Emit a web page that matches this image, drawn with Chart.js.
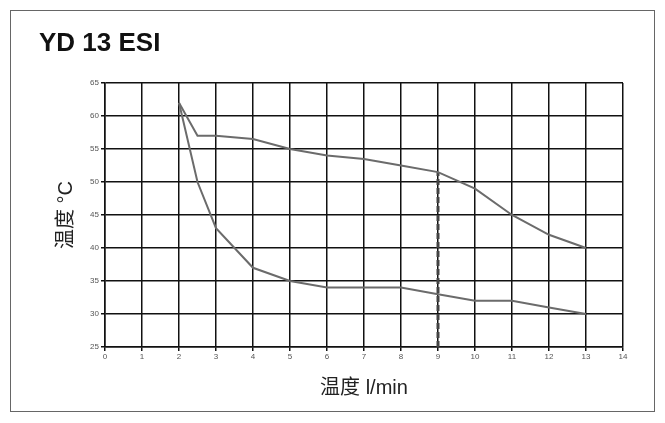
<!DOCTYPE html>
<html>
<head>
<meta charset="utf-8">
<script src="https://cdn.jsdelivr.net/npm/chart.js@4"></script>
<style>
  html, body { margin: 0; padding: 0; background: #fff; }
  #wrap { width: 665px; height: 423px; position: relative; }
</style>
</head>
<body>
<div id="wrap"><canvas id="myChart" width="665" height="423"></canvas></div>
<script>
// flow (l/min) on x, temperature on y
var flow = [2, 2.5, 3, 4, 5, 6, 7, 8, 9, 10, 11, 12, 13];
var upperTemp = [62, 57, 57, 56.5, 55, 54, 53.5, 52.5, 51.5, 49, 45, 42, 40];
var lowerTemp = [62, 50, 43, 37, 35, 34, 34, 34, 33, 32, 32, 31, 30];
var markerX = [9, 9];
var markerY = [25, 51.5];
var xTicks = [0, 1, 2, 3, 4, 5, 6, 7, 8, 9, 10, 11, 12, 13, 14];
var yTicks = [25, 30, 35, 40, 45, 50, 55, 60, 65];

function pts(xs, ys) {
    return xs.map(function (x, i) { return { x: x, y: ys[i] }; });
}

// outer frame + title
var framePlugin = {
    id: 'frame',
    beforeDraw: function (chart) {
        var c = chart.ctx;
        c.save();
        c.fillStyle = '#fff';
        c.fillRect(0, 0, chart.width, chart.height);
        c.strokeStyle = '#666';
        c.lineWidth = 1;
        c.strokeRect(10.5, 10.5, 644, 401);
        c.fillStyle = '#111';
        c.font = 'bold 26px "Liberation Sans", Arial, sans-serif';
        c.textBaseline = 'middle';
        c.fillText('YD 13 ESI', 39, 44);
        c.restore();
    }
};

new Chart("myChart", {
    type: "scatter",
    data: {
        datasets: [{
            data: pts(flow, upperTemp),
            showLine: true,
            borderColor: "#6b6b6b",
            borderWidth: 2,
            pointRadius: 0,
            tension: 0
        }, {
            data: pts(flow, lowerTemp),
            showLine: true,
            borderColor: "#6b6b6b",
            borderWidth: 2,
            pointRadius: 0,
            tension: 0
        }, {
            data: pts(markerX, markerY),
            showLine: true,
            borderColor: "#444",
            borderWidth: 3,
            borderDash: [6, 3],
            pointRadius: 0
        }]
    },
    options: {
        responsive: false,
        animation: false,
        layout: { padding: { left: 10, right: 42, top: 83, bottom: 10 } },
        plugins: {
            legend: { display: false },
            tooltip: { enabled: false }
        },
        scales: {
            x: {
                type: 'linear',
                min: 0, max: 14,
                afterBuildTicks: function (s) { s.ticks = xTicks.map(function (v) { return { value: v }; }); },
                afterFit: function (s) { s.height = 66; },
                grid: { color: '#111', lineWidth: 1.5, tickLength: 4, drawTicks: true },
                border: { color: '#111', width: 1.5 },
                ticks: { color: '#555', font: { size: 8, family: 'Liberation Sans' }, padding: 1, maxRotation: 0 },
                title: {
                    display: true,
                    text: '温度 l/min',
                    color: '#222',
                    font: { size: 20, family: '"Liberation Sans", "Noto Sans CJK SC", sans-serif' },
                    padding: { top: 6, bottom: 13 }
                }
            },
            y: {
                min: 25, max: 65,
                afterBuildTicks: function (s) { s.ticks = yTicks.map(function (v) { return { value: v }; }); },
                afterFit: function (s) { s.width = 95; },
                grid: { color: '#111', lineWidth: 1.5, tickLength: 4 },
                border: { color: '#111', width: 1.5 },
                ticks: { color: '#555', font: { size: 8, family: 'Liberation Sans' }, padding: 2 },
                title: {
                    display: true,
                    text: '温度 °C',
                    color: '#222',
                    font: { size: 20, family: '"Liberation Sans", "Noto Sans CJK SC", sans-serif' },
                    padding: { top: 44, bottom: 0 }
                }
            }
        }
    },
    plugins: [framePlugin]
});
</script>
</body>
</html>
